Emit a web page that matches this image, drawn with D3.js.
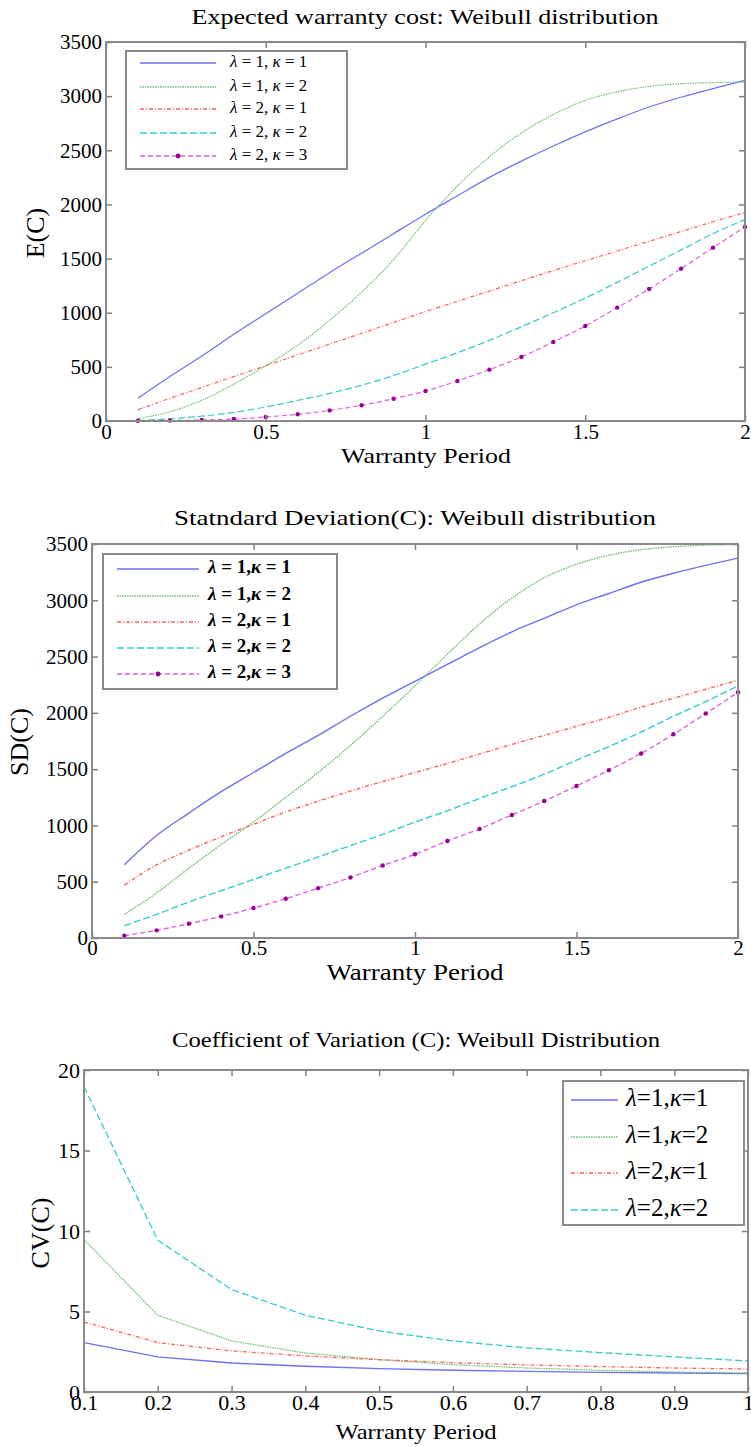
<!DOCTYPE html>
<html>
<head>
<meta charset="utf-8">
<script src="https://d3js.org/d3.v7.min.js"></script>
<style>
  body { margin: 0; background: #fff; }
  text { font-family: "Liberation Serif", "Times New Roman", serif; fill: #000; }
</style>
</head>
<body>
<div id="chart"></div>
<script>
// warranty periods
const periods2 = [0.1, 0.2, 0.3, 0.4, 0.5, 0.6, 0.7, 0.8, 0.9, 1.0,
                  1.1, 1.2, 1.3, 1.4, 1.5, 1.6, 1.7, 1.8, 1.9, 2.0];
const periods1 = [0.1, 0.2, 0.3, 0.4, 0.5, 0.6, 0.7, 0.8, 0.9, 1.0];

// expected cost E(C)
const ec_l1k1 = [210, 410, 600, 800, 990, 1180, 1370, 1550, 1730, 1910, 2080, 2250, 2400, 2540, 2670, 2790, 2900, 2990, 3070, 3145];
const ec_l1k2 = [22, 85, 192, 340, 510, 700, 930, 1190, 1490, 1850, 2170, 2440, 2660, 2830, 2960, 3040, 3090, 3115, 3125, 3130];
const ec_l2k1 = [105, 210, 310, 410, 510, 610, 710, 810, 910, 1010, 1105, 1200, 1295, 1390, 1480, 1570, 1660, 1750, 1840, 1925];
const ec_l2k2 = [5, 20, 45, 80, 130, 190, 255, 330, 420, 525, 630, 745, 870, 1000, 1135, 1280, 1430, 1580, 1730, 1860];
const ec_l2k3 = [2, 4, 9, 18, 37, 62, 98, 145, 206, 277, 370, 474, 591, 730, 877, 1047, 1219, 1407, 1601, 1792];

// standard deviation SD(C)
const sd_l1k1 = [650, 910, 1110, 1300, 1470, 1640, 1800, 1970, 2130, 2280, 2430, 2580, 2720, 2840, 2960, 3060, 3160, 3240, 3310, 3375];
const sd_l1k2 = [210, 400, 620, 830, 1030, 1250, 1470, 1710, 1970, 2240, 2520, 2790, 3020, 3200, 3320, 3400, 3450, 3475, 3490, 3495];
const sd_l2k1 = [470, 650, 780, 900, 1010, 1120, 1215, 1305, 1390, 1470, 1550, 1635, 1720, 1800, 1880, 1960, 2050, 2130, 2210, 2290];
const sd_l2k2 = [110, 210, 320, 420, 520, 620, 720, 820, 920, 1030, 1130, 1240, 1345, 1455, 1580, 1700, 1830, 1970, 2100, 2240];
const sd_l2k3 = [21, 68, 127, 192, 266, 349, 443, 537, 644, 744, 862, 969, 1093, 1217, 1350, 1491, 1639, 1810, 1994, 2183];

// coefficient of variation CV(C)
const cv_l1k1 = [3.07, 2.18, 1.80, 1.60, 1.45, 1.35, 1.28, 1.22, 1.18, 1.14];
const cv_l1k2 = [9.47, 4.77, 3.17, 2.42, 2.01, 1.70, 1.49, 1.35, 1.24, 1.18];
const cv_l2k1 = [4.35, 3.07, 2.55, 2.24, 2.01, 1.82, 1.68, 1.58, 1.49, 1.43];
const cv_l2k2 = [18.96, 9.43, 6.36, 4.77, 3.79, 3.17, 2.74, 2.45, 2.18, 1.93];

// legend labels [lambda, kappa]
const params5 = [[1, 1], [1, 2], [2, 1], [2, 2], [2, 3]];
const params4 = [[1, 1], [1, 2], [2, 1], [2, 2]];

// tick values
const xTicks2 = [0, 0.5, 1, 1.5, 2];
const xTicks1 = [0.1, 0.2, 0.3, 0.4, 0.5, 0.6, 0.7, 0.8, 0.9, 1];
const yTicksCost = [0, 500, 1000, 1500, 2000, 2500, 3000, 3500];
const yTicksCv = [0, 5, 10, 15, 20];

const titles = ["Expected warranty cost: Weibull distribution",
                "Statndard Deviation(C): Weibull distribution",
                "Coefficient of Variation (C): Weibull Distribution"];
const yLabels = ["E(C)", "SD(C)", "CV(C)"];
const xLabel = "Warranty Period";

// line styles, same order as the series
const styles = [
  {color: "#6f6ff5", dash: null},
  {color: "#6fbf6f", dash: "1.5,1"},
  {color: "#ff6060", dash: "4,2,1,2"},
  {color: "#33cccc", dash: "7,3"},
  {color: "#e060e0", dash: "5,3", marker: "#990099"}
];

const svg = d3.select("#chart").append("svg")
    .attr("width", 751)
    .attr("height", 1447)

function drawPanel(p) {
  const g = svg.append("g")

  const x = d3.scaleLinear().domain(p.xDomain).range([p.left, p.right])
  const y = d3.scaleLinear().domain(p.yDomain).range([p.bottom, p.top])

  // series lines
  p.series.forEach((vals, i) => {
    const st = styles[i]
    const pts = p.xs.map((d, j) => [d, vals[j]])
    const line = d3.line().x(d => x(d[0])).y(d => y(d[1]))
    if (p.curve) line.curve(d3.curveMonotoneX)
    g.append("path")
      .attr("d", line(pts))
      .attr("fill", "none")
      .attr("stroke", st.color)
      .attr("stroke-width", p.lw)
      .attr("stroke-dasharray", st.dash)
    if (st.marker) {
      g.selectAll(null).data(pts).enter().append("circle")
        .attr("cx", d => x(d[0]))
        .attr("cy", d => y(d[1]))
        .attr("r", 2.2)
        .attr("fill", st.marker)
    }
  })

  // axes with inward ticks on all four sides
  const tick = 6
  const fmt = d3.format("")
  const axes = [
    g.append("g").attr("transform", "translate(0," + p.bottom + ")")
      .call(d3.axisBottom(x).tickValues(p.xTicks).tickSize(-tick).tickPadding(p.xPad).tickFormat(fmt)),
    g.append("g").attr("transform", "translate(0," + p.top + ")")
      .call(d3.axisTop(x).tickValues(p.xTicks).tickSize(-tick).tickFormat("")),
    g.append("g").attr("transform", "translate(" + p.left + ",0)")
      .call(d3.axisLeft(y).tickValues(p.yTicks).tickSize(-tick).tickPadding(4).tickFormat(fmt)),
    g.append("g").attr("transform", "translate(" + p.right + ",0)")
      .call(d3.axisRight(y).tickValues(p.yTicks).tickSize(-tick).tickFormat(""))
  ]
  axes.forEach(a => a.attr("font-family", "Liberation Serif, serif").attr("font-size", p.tickFont))

  g.selectAll(".domain").attr("stroke", "none")
  g.selectAll(".tick line").attr("stroke", "#808080").attr("stroke-width", 1.5)
  g.selectAll(".tick text").attr("fill", "#000")

  g.append("rect")
    .attr("x", p.left).attr("y", p.top)
    .attr("width", p.right - p.left).attr("height", p.bottom - p.top)
    .attr("fill", "none").attr("stroke", "#8a8a8a").attr("stroke-width", 2)

  // titles
  g.append("text")
    .attr("x", p.titleX).attr("y", p.titleY)
    .attr("text-anchor", "middle").attr("dominant-baseline", "middle")
    .attr("textLength", p.titleLen).attr("lengthAdjust", "spacingAndGlyphs")
    .style("font-size", p.titleFont + "px")
    .text(p.title)
  g.append("text")
    .attr("x", p.xLabelX).attr("y", p.xLabelY)
    .attr("text-anchor", "middle").attr("dominant-baseline", "middle")
    .attr("textLength", p.xLabelLen).attr("lengthAdjust", "spacingAndGlyphs")
    .style("font-size", p.labelFont + "px")
    .text(xLabel)
  g.append("text")
    .attr("transform", "translate(" + p.yLabelX + "," + p.yLabelY + ") rotate(-90)")
    .attr("text-anchor", "middle").attr("dominant-baseline", "middle")
    .style("font-size", p.yLabelFont + "px")
    .text(p.yLabel)

  // legend
  const lg = p.legend
  g.append("rect")
    .attr("x", lg.x0).attr("y", lg.y0)
    .attr("width", lg.x1 - lg.x0).attr("height", lg.y1 - lg.y0)
    .attr("fill", "#fff").attr("stroke", "#8a8a8a").attr("stroke-width", 2)
  p.params.forEach((pr, i) => {
    const st = styles[i]
    const ry = lg.rows[i]
    g.append("line")
      .attr("x1", lg.lx0).attr("x2", lg.lx1).attr("y1", ry).attr("y2", ry)
      .attr("stroke", st.color).attr("stroke-width", p.lw + 0.3)
      .attr("stroke-dasharray", st.dash)
    if (st.marker) {
      g.append("circle").attr("cx", (lg.lx0 + lg.lx1) / 2).attr("cy", ry)
        .attr("r", 2.4).attr("fill", st.marker)
    }
    const t = g.append("text")
      .attr("x", lg.tx).attr("y", ry)
      .attr("dominant-baseline", "middle")
      .style("font-size", lg.font + "px")
      .style("font-weight", lg.bold ? "bold" : "normal")
    t.append("tspan").style("font-style", "italic").text("λ")
    t.append("tspan").text(lg.eq + pr[0] + "," + lg.gap)
    t.append("tspan").style("font-style", "italic").text("κ")
    t.append("tspan").text(lg.eq + pr[1])
  })
}

drawPanel({
  left: 106, right: 745, top: 42, bottom: 421,
  xDomain: [0, 2], yDomain: [0, 3500], xs: periods2,
  series: [ec_l1k1, ec_l1k2, ec_l2k1, ec_l2k2, ec_l2k3], params: params5,
  xTicks: xTicks2, yTicks: yTicksCost, curve: true, lw: 1.2,
  tickFont: 21, xPad: 3,
  title: titles[0], titleX: 425, titleY: 19, titleFont: 22, titleLen: 467,
  labelFont: 22, xLabelX: 426, xLabelY: 458, xLabelLen: 170,
  yLabel: yLabels[0], yLabelX: 38, yLabelY: 233, yLabelFont: 26,
  legend: {x0: 126, x1: 347, y0: 51, y1: 169, lx0: 140, lx1: 216, tx: 230,
           rows: [63, 87, 109, 133, 156], font: 17, eq: " = ", gap: " ", bold: false}
})

drawPanel({
  left: 92, right: 738, top: 544, bottom: 938,
  xDomain: [0, 2], yDomain: [0, 3500], xs: periods2,
  series: [sd_l1k1, sd_l1k2, sd_l2k1, sd_l2k2, sd_l2k3], params: params5,
  xTicks: xTicks2, yTicks: yTicksCost, curve: true, lw: 1.4,
  tickFont: 21, xPad: 2,
  title: titles[1], titleX: 415, titleY: 520, titleFont: 22, titleLen: 482,
  labelFont: 23, xLabelX: 415, xLabelY: 975, xLabelLen: 177,
  yLabel: yLabels[1], yLabelX: 22, yLabelY: 742, yLabelFont: 26,
  legend: {x0: 103, x1: 337, y0: 554, y1: 689, lx0: 117, lx1: 199, tx: 208,
           rows: [569, 596, 622, 648, 674], font: 19, eq: " = ", gap: "", bold: true}
})

drawPanel({
  left: 84, right: 748, top: 1070, bottom: 1392,
  xDomain: [0.1, 1], yDomain: [0, 20], xs: periods1,
  series: [cv_l1k1, cv_l1k2, cv_l2k1, cv_l2k2], params: params4,
  xTicks: xTicks1, yTicks: yTicksCv, curve: false, lw: 1.3,
  tickFont: 22, xPad: 2,
  title: titles[2], titleX: 416, titleY: 1042, titleFont: 22, titleLen: 488,
  labelFont: 22, xLabelX: 416, xLabelY: 1434, xLabelLen: 161,
  yLabel: yLabels[2], yLabelX: 43, yLabelY: 1233, yLabelFont: 26,
  legend: {x0: 563, x1: 744, y0: 1081, y1: 1225, lx0: 571, lx1: 618, tx: 626,
           rows: [1100, 1137, 1173, 1210], font: 25, eq: "=", gap: "", bold: false}
})
</script>
</body>
</html>
